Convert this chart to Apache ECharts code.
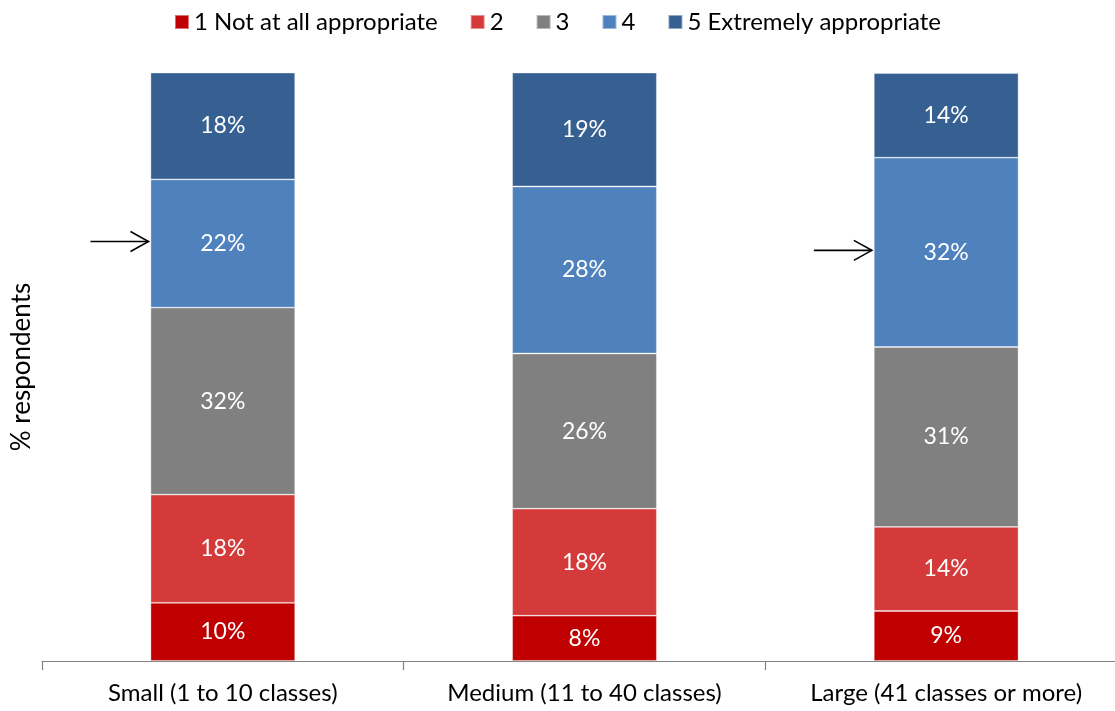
<!DOCTYPE html>
<html>
<head>
<meta charset="utf-8">
<script src="https://cdn.jsdelivr.net/npm/echarts@6/dist/echarts.min.js"></script>
<style>html,body{margin:0;padding:0;background:#fff}#c{width:1115px;height:711px}</style>
</head>
<body>
<div id="c"></div>
<script>
const categories = ['Small (1 to 10 classes)', 'Medium (11 to 40 classes)', 'Large (41 classes or more)'];
const seriesNames = ['1 Not at all appropriate', '2', '3', '4', '5 Extremely appropriate'];
const rating1 = [9.9, 7.7, 8.5];
const rating2 = [18.4, 18.2, 14.3];
const rating3 = [31.8, 26.4, 30.6];
const rating4 = [21.8, 28.4, 32.2];
const rating5 = [18.2, 19.4, 14.4];
const colors = ['#C00000', '#D43A3A', '#808080', '#4F81BD', '#366092'];
const arrowTargets = [0, 2]; // category indices of "4" segments with arrows

const FONT = 'Lato';
const chart = echarts.init(document.getElementById('c'), null, {renderer: 'canvas'});
const allData = [rating1, rating2, rating3, rating4, rating5];

const series = allData.map((d, i) => ({
  name: seriesNames[i],
  type: 'bar',
  stack: 'total',
  barWidth: '40%',
  data: d,
  itemStyle: {color: colors[i], borderColor: 'rgba(255,255,255,0.45)', borderWidth: 0.8},
  label: {
    show: true, position: 'inside', color: '#fff', fontFamily: FONT, fontSize: 23,
    formatter: p => Math.round(p.value) + '%'
  },
  emphasis: {disabled: true}
}));

chart.setOption({
  animation: false,
  color: colors,
  legend: {
    top: 5, left: 'center', itemWidth: 14, itemHeight: 14, itemGap: 32,
    icon: 'rect',
    textStyle: {fontFamily: FONT, fontSize: 24, color: '#000'},
    data: seriesNames
  },
  grid: {left: 42, right: -12, top: 73, bottom: 50, containLabel: false, outerBoundsMode: 'none'},
  xAxis: {
    type: 'category', data: categories,
    axisLine: {lineStyle: {color: '#808080', width: 1.2}},
    axisTick: {show: true, length: 9, lineStyle: {color: '#808080', width: 1.2}},
    axisLabel: {fontFamily: FONT, fontSize: 24, color: '#000', margin: 20}
  },
  yAxis: {
    type: 'value', min: 0, max: 100,
    name: '% respondents', nameLocation: 'middle', nameGap: 7, nameRotate: 90,
    nameTextStyle: {fontFamily: FONT, fontSize: 26, color: '#000'},
    axisLine: {show: false}, axisTick: {show: false}, axisLabel: {show: false},
    splitLine: {show: false}
  },
  series: series
});

// Arrows pointing at the "4" segments, positioned via the chart's scales
const graphics = [];
arrowTargets.forEach(ci => {
  const below = rating1[ci] + rating2[ci] + rating3[ci];
  const mid = below + rating4[ci] / 2;
  const pc = chart.convertToPixel({gridIndex: 0}, [ci, mid]);
  const p0 = chart.convertToPixel({gridIndex: 0}, [0, 0]);
  const p1 = chart.convertToPixel({gridIndex: 0}, [1, 0]);
  const bandW = p1[0] - p0[0];
  const tipX = pc[0] - bandW * 0.2 - 2;
  const y = pc[1] - 2;
  const startX = tipX - 58;
  graphics.push({type: 'line', shape: {x1: startX, y1: y, x2: tipX, y2: y}, style: {stroke: '#000', lineWidth: 1.6}});
  graphics.push({type: 'polyline', shape: {points: [[tipX - 18, y - 10], [tipX, y], [tipX - 18, y + 10]]}, style: {stroke: '#000', lineWidth: 1.6, fill: null}});
});
chart.setOption({graphic: graphics});
</script>
</body>
</html>
